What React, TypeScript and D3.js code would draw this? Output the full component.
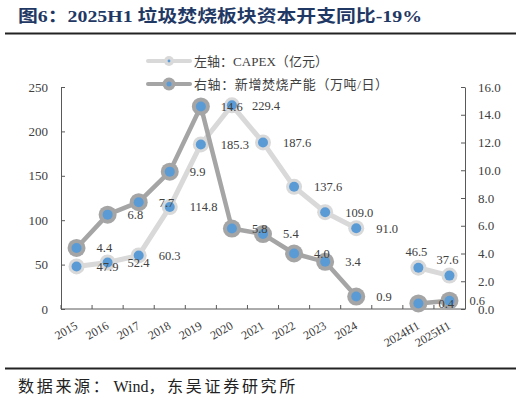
import React, { useRef, useEffect } from 'react';
import * as d3 from 'd3';

const categories = ['2015', '2016', '2017', '2018', '2019', '2020', '2021', '2022', '2023', '2024', '', '2024H1', '2025H1'];
const capex: (number | null)[] = [47.9, 52.4, 60.3, 114.8, 185.3, 229.4, 187.6, 137.6, 109.0, 91.0, null, 46.5, 37.6];
const capacity: (number | null)[] = [4.4, 6.8, 7.7, 9.9, 14.6, 5.8, 5.4, 4.0, 3.4, 0.9, null, 0.4, 0.6];
const leftTicks = [0, 50, 100, 150, 200, 250];
const rightTicks = [0, 2, 4, 6, 8, 10, 12, 14, 16];
const legendLabels = ['左轴：CAPEX（亿元）', '右轴：新增焚烧产能（万吨/日）'];
const titleText = '图6：2025H1 垃圾焚烧板块资本开支同比-19%';
// source line split so only the CJK runs get the wider spacing
const sourceParts = ['数据来源：', 'Wind', '，东吴证券研究所'];
// CAPEX labels that sit above their point instead of to the right
const capexLabelAbove = new Set(['2024H1', '2025H1']);

const W = 521;
const H = 402;
const SERIF = "'Liberation Serif', 'Times New Roman', 'Noto Sans CJK SC', serif";
const TEXT = '#404040';
const BLUE = '#5B9BD5';
const LIGHT = '#D9D9D9';
const DARK = '#A5A5A5';

const App: React.FC = () => {
  const svgRef = useRef<SVGSVGElement>(null);

  useEffect(() => {
    const root = d3.select(svgRef.current);
    root.selectAll('*').remove();

    const left = 61, right = 465, top = 87, bottom = 309;

    // title + rules
    root.append('text')
      .attr('x', 18).attr('y', 22)
      .attr('font-family', SERIF).attr('font-weight', 'bold').attr('font-size', 17)
      .attr('fill', '#1F3864')
      .attr('textLength', 404).attr('lengthAdjust', 'spacingAndGlyphs')
      .text(titleText);
    root.append('line').attr('x1', 5).attr('x2', 516).attr('y1', 33.5).attr('y2', 33.5)
      .attr('stroke', '#222').attr('stroke-width', 2.2);
    root.append('line').attr('x1', 5).attr('x2', 516).attr('y1', 368.5).attr('y2', 368.5)
      .attr('stroke', '#222').attr('stroke-width', 2.2);
    const src = root.append('text')
      .attr('x', 18).attr('y', 392)
      .attr('font-family', SERIF).attr('font-size', 16).attr('fill', '#222');
    sourceParts.forEach((p, i) => {
      src.append('tspan')
        .attr('letter-spacing', i === 1 ? 0 : 2.7)
        .attr('dx', i === 1 ? 2 : 0)
        .text(p);
    });

    const x = d3.scaleBand().domain(categories).range([left, right]).paddingInner(0).paddingOuter(0);
    const yL = d3.scaleLinear().domain([0, 250]).range([bottom, top]);
    const yR = d3.scaleLinear().domain([0, 16]).range([bottom, top]);
    const cx = (i: number) => (x(categories[i]) as number) + x.bandwidth() / 2;

    // axes
    const axL = root.append('g').attr('transform', `translate(${left},0)`)
      .call(d3.axisLeft(yL).tickValues(leftTicks).tickSizeInner(-4).tickSizeOuter(0).tickPadding(13).tickFormat(d3.format('d')));
    const axR = root.append('g').attr('transform', `translate(${right},0)`)
      .call(d3.axisRight(yR).tickValues(rightTicks).tickSizeInner(-4).tickSizeOuter(0).tickPadding(13).tickFormat(d3.format('.1f')));
    [axL, axR].forEach(ax => {
      ax.select('.domain').attr('stroke', '#595959');
      ax.selectAll('.tick line').attr('stroke', '#595959');
      ax.selectAll('.tick text').attr('font-family', SERIF).attr('font-size', 13).attr('fill', TEXT);
    });

    const gx = root.append('g');
    gx.append('line').attr('x1', left).attr('x2', right).attr('y1', bottom).attr('y2', bottom)
      .attr('stroke', '#595959');
    categories.forEach((c, i) => {
      const bx = x(c) as number;
      gx.append('line').attr('x1', bx).attr('x2', bx).attr('y1', bottom).attr('y2', bottom - 4)
        .attr('stroke', '#595959');
      if (c) {
        gx.append('text')
          .attr('transform', `translate(${cx(i) + 2},${bottom + 19}) rotate(-30)`)
          .attr('text-anchor', 'end')
          .attr('font-family', SERIF).attr('font-size', 12).attr('fill', TEXT)
          .text(c);
      }
    });

    // lines
    const lineL = d3.line<number | null>().defined(d => d != null)
      .x((_, i) => cx(i)).y(d => yL(d as number));
    const lineR = d3.line<number | null>().defined(d => d != null)
      .x((_, i) => cx(i)).y(d => yR(d as number));

    root.append('path').attr('d', lineL(capex) as string).attr('fill', 'none')
      .attr('stroke', LIGHT).attr('stroke-width', 5).attr('stroke-linejoin', 'round');
    capex.forEach((v, i) => {
      if (v == null) return;
      root.append('circle').attr('cx', cx(i)).attr('cy', yL(v)).attr('r', 8).attr('fill', LIGHT);
      root.append('circle').attr('cx', cx(i)).attr('cy', yL(v)).attr('r', 5).attr('fill', BLUE);
    });

    root.append('path').attr('d', lineR(capacity) as string).attr('fill', 'none')
      .attr('stroke', DARK).attr('stroke-width', 4.5).attr('stroke-linejoin', 'round');
    capacity.forEach((v, i) => {
      if (v == null) return;
      root.append('circle').attr('cx', cx(i)).attr('cy', yR(v)).attr('r', 9).attr('fill', DARK);
      root.append('circle').attr('cx', cx(i)).attr('cy', yR(v)).attr('r', 5).attr('fill', BLUE);
    });

    // data labels
    const lab = root.append('g').attr('font-family', SERIF).attr('font-size', 12.5).attr('fill', TEXT);
    capex.forEach((v, i) => {
      if (v == null) return;
      const above = capexLabelAbove.has(categories[i]);
      lab.append('text')
        .attr('x', above ? cx(i) - 2 : cx(i) + 20)
        .attr('y', above ? yL(v) - 16 : yL(v))
        .attr('dy', '0.35em')
        .attr('text-anchor', above ? 'middle' : 'start')
        .text(v.toFixed(1));
    });
    capacity.forEach((v, i) => {
      if (v == null) return;
      lab.append('text')
        .attr('x', cx(i) + 20).attr('y', yR(v)).attr('dy', '0.35em')
        .text(v.toFixed(1));
    });

    // legend
    const leg = root.append('g');
    const legendStyles = [
      { stroke: LIGHT, outer: 5, inner: 1.4 },
      { stroke: DARK, outer: 6.5, inner: 2.5 },
    ];
    legendLabels.forEach((t, i) => {
      const ly = 61 + i * 23;
      const s = legendStyles[i];
      leg.append('line').attr('x1', 148).attr('x2', 190).attr('y1', ly).attr('y2', ly)
        .attr('stroke', s.stroke).attr('stroke-width', 4).attr('stroke-linecap', 'round');
      leg.append('circle').attr('cx', 169).attr('cy', ly).attr('r', s.outer).attr('fill', s.stroke);
      leg.append('circle').attr('cx', 169).attr('cy', ly).attr('r', s.inner).attr('fill', BLUE);
      leg.append('text').attr('x', 194).attr('y', ly).attr('dy', '0.38em')
        .attr('font-family', SERIF).attr('font-size', 13).attr('fill', TEXT)
        .attr('textLength', i === 0 ? 134 : 194).attr('lengthAdjust', 'spacing')
        .text(t);
    });
  }, []);

  return (
    <div style={{ position: 'absolute', left: 0, top: 0 }}>
      <svg ref={svgRef} width={W} height={H} style={{ display: 'block', background: '#fff' }} />
    </div>
  );
};

export default App;
